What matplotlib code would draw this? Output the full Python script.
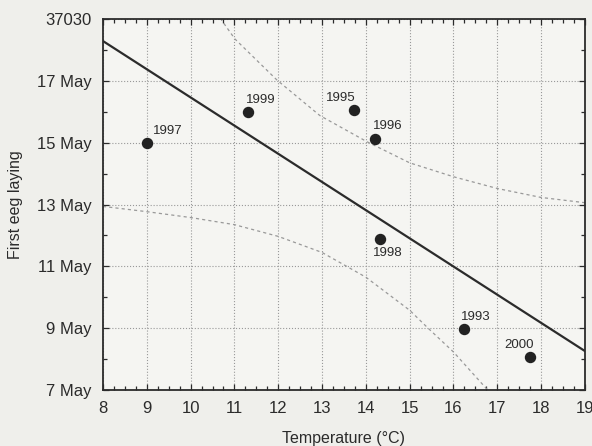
import matplotlib.pyplot as plt
from matplotlib.ticker import MultipleLocator, FixedLocator

# first egg laying (day of May) against spring temperature
years = ['1997', '1999', '1995', '1996', '1998', '1993', '2000']
temp = [9.0, 11.3, 13.73, 14.21, 14.32, 16.24, 17.75]
lay_day = [15.0, 16.0, 16.06, 15.13, 11.9, 8.97, 8.06]

# regression line end points
fit_x = [8, 19]
fit_y = [18.29, 8.26]

# confidence band
upper_x = [10.6, 10.73, 11.01, 11.97, 12.95, 14.03, 15.0, 16.0, 17.0, 18.0, 19.0]
upper_y = [19.2, 18.92, 18.36, 17.03, 15.88, 15.03, 14.35, 13.9, 13.52, 13.23, 13.06]
lower_x = [8.0, 9.0, 10.0, 11.0, 12.0, 13.0, 14.0, 15.0, 15.42, 16.0, 16.78]
lower_y = [12.94, 12.77, 12.58, 12.35, 11.97, 11.45, 10.65, 9.58, 9.0, 8.23, 7.0]

y_ticks = [7, 9, 11, 13, 15, 17, 19]
y_labels = ['7 May', '9 May', '11 May', '13 May', '15 May', '17 May', '37030']

# label offsets in pixels (dx, dy, ha)
label_pos = {
    '1997': (6, 12, 'left'),
    '1999': (-2, 12, 'left'),
    '1995': (2, 12, 'right'),
    '1996': (-2, 13, 'left'),
    '1998': (-7, -14, 'left'),
    '1993': (-3, 12, 'left'),
    '2000': (4, 12, 'right'),
}

plt.rcParams['font.family'] = ['Liberation Sans', 'DejaVu Sans']

fig = plt.figure(figsize=(5.92, 4.46), dpi=100, facecolor='#efefeb')
ax = fig.add_axes([0.174, 0.1256, 0.814, 0.8315])
ax.set_facecolor('#f5f5f2')

ax.plot(upper_x, upper_y, color='#999999', linewidth=0.9, linestyle=(0, (2.5, 2.5)))
ax.plot(lower_x, lower_y, color='#999999', linewidth=0.9, linestyle=(0, (2.5, 2.5)))
ax.plot(fit_x, fit_y, color='#2b2b2b', linewidth=1.6)
ax.plot(temp, lay_day, 'o', color='#222222', markersize=7.2, zorder=5)

for yr, x, y in zip(years, temp, lay_day):
    dx, dy, ha = label_pos[yr]
    ax.annotate(yr, (x, y), xytext=(dx, dy), textcoords='offset pixels',
                ha=ha, va='center', fontsize=9.5, color='#2b2b2b')

ax.set_xlim(8, 19)
ax.set_ylim(7, 19)
ax.set_xticks(range(8, 20))
ax.xaxis.set_minor_locator(MultipleLocator(0.25))
ax.yaxis.set_major_locator(FixedLocator(y_ticks))
ax.set_yticklabels(y_labels)
ax.yaxis.set_minor_locator(MultipleLocator(1))

ax.tick_params(which='both', direction='in', top=True, right=True,
               colors='#2b2b2b', labelsize=12, width=0.9)
ax.tick_params(which='major', length=4)
ax.tick_params(which='minor', length=3)
ax.tick_params(axis='x', pad=8)
ax.tick_params(axis='y', pad=8)

ax.grid(True, which='major', color='#999999', linestyle=':', linewidth=0.8)
for side in ax.spines.values():
    side.set_linewidth(1.3)
    side.set_color('#2b2b2b')

ax.set_xlabel('Temperature (°C)', fontsize=11.5, color='#2b2b2b', labelpad=11)
ax.set_ylabel('First eeg laying', fontsize=11.5, color='#2b2b2b', labelpad=10)

fig.savefig('out.png', dpi=100, facecolor=fig.get_facecolor())
